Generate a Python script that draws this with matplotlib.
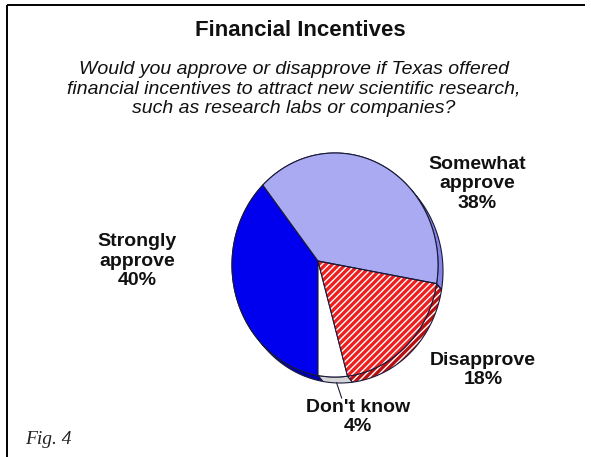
import numpy as np
import matplotlib
matplotlib.use("Agg")
import matplotlib.pyplot as plt
from matplotlib.patches import Polygon

# data
labels = ["Strongly\napprove", "Don't know", "Disapprove", "Somewhat\napprove"]
shares = [40, 4, 18, 38]
title = "Financial Incentives"
subtitle = ("Would you approve or disapprove if Texas offered\n"
            "financial incentives to attract new scientific research,\n"
            "such as research labs or companies?")

# styling / layout (pixel coords, y down)
top_colors = ["#0000ee", "#ffffff", "#ee1f1f", "#aaaaf2"]
side_colors = ["#0000b0", "#d6d6d6", "#b81010", "#8585e6"]
hatched = [False, False, True, False]
label_xy = [(137, 261), (358, 417), (483, 370), (477, 184)]

W, H = 591, 457
VX, VY = 318, 261              # where the slices meet
CX, CY, A, B = 335, 265, 103, 112   # outline of the top face
DEPTH = np.array([5, 6])
START = 126
EDGE = "#1a1a3a"

plt.rcParams["hatch.linewidth"] = 1.0


def arc(t0, t1, n=90):
    th = np.radians(np.linspace(t0, t1, n))
    dx, dy = np.cos(th), -np.sin(th)
    px, py = VX - CX, VY - CY
    qa = (dx / A) ** 2 + (dy / B) ** 2
    qb = 2 * (px * dx / A ** 2 + py * dy / B ** 2)
    qc = (px / A) ** 2 + (py / B) ** 2 - 1
    t = (-qb + np.sqrt(qb ** 2 - 4 * qa * qc)) / (2 * qa)
    return np.column_stack([VX + t * dx, VY + t * dy])


def add_patch(ax, pts, face, hatch, z):
    if hatch:
        ax.add_patch(Polygon(pts, closed=True, facecolor=face, edgecolor="white",
                             hatch="/////", linewidth=0, zorder=z))
        ax.add_patch(Polygon(pts, closed=True, facecolor="none", edgecolor=EDGE,
                             linewidth=0.8, zorder=z + 0.1))
    else:
        ax.add_patch(Polygon(pts, closed=True, facecolor=face, edgecolor=EDGE,
                             linewidth=0.8, zorder=z))


fig = plt.figure(figsize=(W / 100, H / 100), dpi=100)
ax = fig.add_axes([0, 0, 1, 1])
ax.set_xlim(0, W)
ax.set_ylim(H, 0)
ax.axis("off")

bounds = START + np.concatenate([[0], np.cumsum(shares)]) * 360 / sum(shares)

# side of the pie first, then the top face
for i in range(len(shares)):
    a = arc(bounds[i], bounds[i + 1])
    side = np.vstack([a, (a + DEPTH)[::-1]])
    add_patch(ax, side, side_colors[i], hatched[i], 2)
for i in range(len(shares)):
    a = arc(bounds[i], bounds[i + 1])
    top = np.vstack([[VX, VY], a])
    add_patch(ax, top, top_colors[i], hatched[i], 3)

# leader line for the small slice
mid = arc((bounds[1] + bounds[2]) / 2, (bounds[1] + bounds[2]) / 2, 1)[0] + DEPTH
ax.plot([mid[0] - 1, mid[0] + 4], [mid[1], mid[1] + 15], color=EDGE, lw=0.8, zorder=4)

font = "Liberation Sans"
for lab, v, (x, y) in zip(labels, shares, label_xy):
    ax.text(x, y, f"{lab}\n{v}%", ha="center", va="center", fontsize=14,
            fontweight="bold", family=font, linespacing=1.18, color="#111111")

ax.text(300, 30, title, ha="center", va="center", fontsize=16,
        fontweight="bold", family=font, color="#111111")
ax.text(294, 89, subtitle, ha="center", va="center", fontsize=14,
        style="italic", family=font, linespacing=1.2, color="#111111")
ax.text(25, 440, "Fig. 4", ha="left", va="center", fontsize=14,
        style="italic", family="Liberation Serif", color="#222222")

# frame: top and left rules only
ax.plot([7, 585], [5, 5], color="black", lw=1.4, solid_capstyle="butt")
ax.plot([7, 7], [5, H], color="black", lw=1.4, solid_capstyle="butt")

fig.savefig("out.png", dpi=100)
